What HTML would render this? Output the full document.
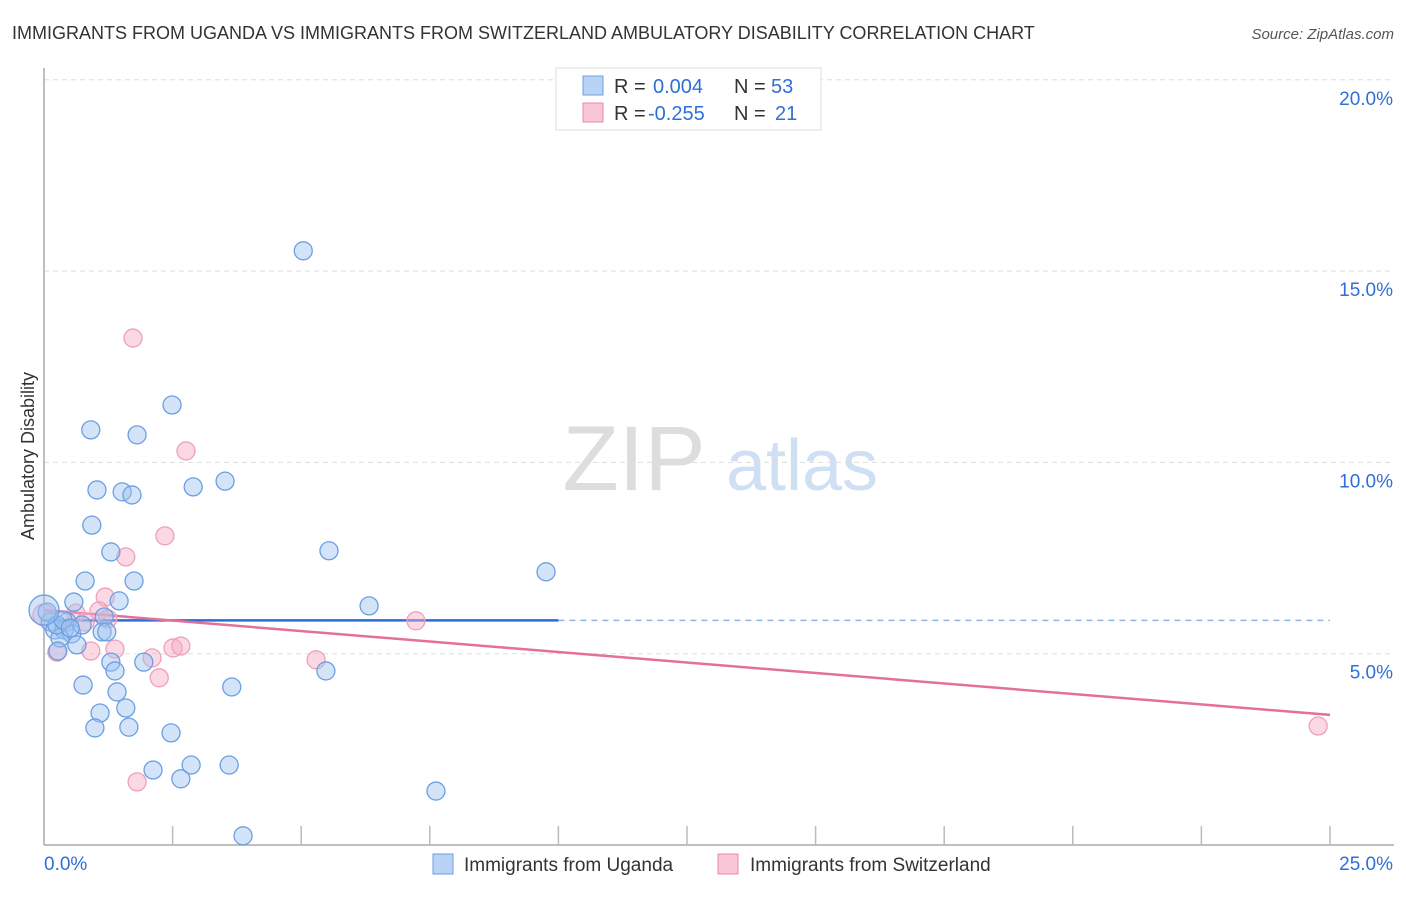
<!DOCTYPE html>
<html><head><meta charset="utf-8"><style>
body{margin:0;background:#fff;font-family:"Liberation Sans",sans-serif;}
svg text{font-family:"Liberation Sans",sans-serif;}
</style></head><body>
<svg id="chart" width="1406" height="892" xmlns="http://www.w3.org/2000/svg">
<text x="12" y="39" font-size="18" fill="#333">IMMIGRANTS FROM UGANDA VS IMMIGRANTS FROM SWITZERLAND AMBULATORY DISABILITY CORRELATION CHART</text>
<text x="1394" y="39" font-size="15" fill="#555" text-anchor="end" font-style="italic">Source: ZipAtlas.com</text>
<text x="34" y="456" font-size="18" fill="#333" text-anchor="middle" transform="rotate(-90 34 456)">Ambulatory Disability</text>
<g><text x="634" y="490" font-size="92" fill="#ddd" font-family="Liberation Serif" text-anchor="middle">ZIP</text><text x="802" y="490" font-size="72" fill="#cfe0f4" text-anchor="middle">atlas</text></g>
<g id="grid"></g><g id="axes"></g><g id="trend"></g><g id="pts"></g>
<g>
<rect x="556" y="68" width="265" height="62" fill="#fff" stroke="#ddd"/>
<rect x="583" y="76" width="20" height="19" fill="#b8d3f5" stroke="#6c9fe0"/>
<text x="614" y="93" font-size="20" fill="#333">R = </text><text x="653" y="93" font-size="20" fill="#2f6fd6">0.004</text>
<text x="734" y="93" font-size="20" fill="#333">N = </text><text x="771" y="93" font-size="20" fill="#2f6fd6">53</text>
<rect x="583" y="103" width="20" height="19" fill="#f9c6d6" stroke="#e88aa8"/>
<text x="614" y="120" font-size="20" fill="#333">R = </text><text x="648" y="120" font-size="20" fill="#2f6fd6">-0.255</text>
<text x="734" y="120" font-size="20" fill="#333">N = </text><text x="775" y="120" font-size="20" fill="#2f6fd6">21</text>
</g>
<g>
<rect x="433" y="854" width="20" height="20" fill="#b8d3f5" stroke="#6c9fe0"/>
<text x="464" y="871" font-size="19" fill="#333">Immigrants from Uganda</text>
<rect x="718" y="854" width="20" height="20" fill="#f9c6d6" stroke="#e88aa8"/>
<text x="750" y="871" font-size="19" fill="#333">Immigrants from Switzerland</text>
</g>
</svg>
<script>
const ugandaX=[5.04,2.49,0.91,1.81,1.03,1.52,1.71,2.90,3.52,0.93,1.30,5.54,9.76,0.80,1.75,0.58,1.46,6.32,1.17,0.45,0.12,0.06,0.21,0.39,0.54,0.31,1.13,1.22,0.64,0.27,1.30,1.94,1.38,5.48,0.76,1.42,3.65,1.59,1.09,0.99,1.65,2.47,2.12,2.86,3.60,2.66,7.62,3.87,0.25,0.37,0.74,0.0,0.51];
const ugandaY=[15.53,11.50,10.85,10.72,9.28,9.23,9.15,9.36,9.51,8.36,7.66,7.69,7.14,6.90,6.90,6.35,6.38,6.25,5.96,5.83,5.83,6.09,5.62,5.62,5.52,5.41,5.57,5.57,5.23,5.07,4.78,4.78,4.55,4.55,4.18,4.00,4.13,3.58,3.45,3.06,3.08,2.93,1.96,2.09,2.09,1.73,1.41,0.24,5.75,5.88,5.75,6.14,5.67];
const swissX=[1.73,2.76,2.35,1.59,1.19,1.07,0.62,1.24,0.25,0.91,1.38,2.10,2.51,2.66,2.24,1.81,7.23,5.29,24.77,0.0,0.80];
const swissY=[13.25,10.30,8.08,7.53,6.48,6.12,6.06,5.91,5.04,5.07,5.12,4.89,5.15,5.20,4.37,1.65,5.86,4.84,3.11,6.01,5.83];
const yTicks=[5,10,15,20];
const yTickLabels=["5.0%","10.0%","15.0%","20.0%"];
const ugandaTrend=[5.87,5.87]; // at x=0 and x=25
const swissTrend=[6.14,3.40];
const NS="http://www.w3.org/2000/svg";
const X=v=>44+v/25*1286, Y=v=>845-v/5*191.3;
function mk(tag,attrs,parent){const e=document.createElementNS(NS,tag);for(const k in attrs)e.setAttribute(k,attrs[k]);parent.appendChild(e);return e;}
const grid=document.getElementById('grid'),axes=document.getElementById('axes'),trend=document.getElementById('trend'),pts=document.getElementById('pts');
yTicks.forEach((t,i)=>{
 const l=mk('line',{x1:44,x2:1394,y1:Y(t),y2:Y(t),stroke:'#ddd','stroke-dasharray':'5,4'},grid);
 
 
 const tx=mk('text',{x:1393,y:Y(t)+25,'font-size':19,fill:'#2f6fd6','text-anchor':'end'},axes);
 tx.textContent=yTickLabels[i];
 
 
});
const ya=mk('line',{x1:44,x2:44,y1:68,y2:845,stroke:'#aaa','stroke-width':1.5},axes);


const xa=mk('line',{x1:44,x2:1394,y1:845,y2:845,stroke:'#aaa','stroke-width':1.5},axes);


for(let i=1;i<=10;i++){const tk=mk('line',{x1:X(i*2.5),x2:X(i*2.5),y1:826,y2:845,stroke:'#bbb','stroke-width':1.5},axes);
 
 }
const xl0=mk('text',{x:44,y:870,'font-size':19,fill:'#2f6fd6'},axes);xl0.textContent='0.0%';


const xl1=mk('text',{x:1393,y:870,'font-size':19,fill:'#2f6fd6','text-anchor':'end'},axes);xl1.textContent='25.0%';


const ub=v=>ugandaTrend[0]+(ugandaTrend[1]-ugandaTrend[0])*v/25;
const t1=mk('line',{x1:X(0),y1:Y(ub(0)),x2:X(10),y2:Y(ub(10)),stroke:'#2a6dd9','stroke-width':2.5},trend);


const t2=mk('line',{x1:X(10),y1:Y(ub(10)),x2:X(25),y2:Y(ub(25)),stroke:'#8fb3e8','stroke-width':1.5,'stroke-dasharray':'6,5'},trend);


const t3=mk('line',{x1:X(0),y1:Y(swissTrend[0]),x2:X(25),y2:Y(swissTrend[1]),stroke:'#e4709a','stroke-width':2.5},trend);


swissX.forEach((x,i)=>{const c=mk('circle',{cx:X(x),cy:Y(swissY[i]),r:x===0?11:9,fill:'rgba(245,170,195,0.45)',stroke:'#eea0ba','stroke-width':1.3},pts);
 
 });
ugandaX.forEach((x,i)=>{const c=mk('circle',{cx:X(x),cy:Y(ugandaY[i]),r:x===0?15:9,fill:'rgba(160,195,240,0.45)',stroke:'#6b9fe2','stroke-width':1.3},pts);
 
 });
</script>
</body></html>
